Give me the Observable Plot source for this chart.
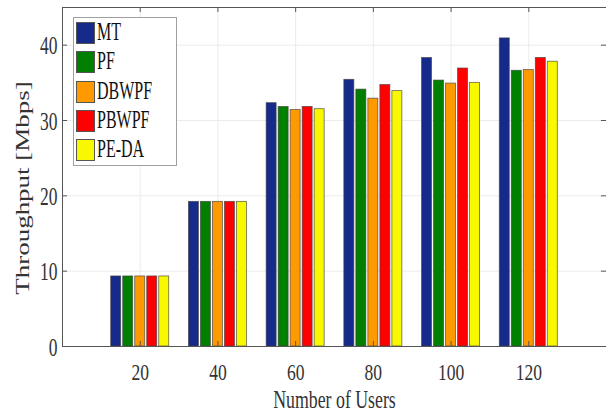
<!DOCTYPE html>
<html>
<head>
<meta charset="utf-8">
<script src="https://cdn.jsdelivr.net/npm/d3@7"></script>
<script src="https://cdn.jsdelivr.net/npm/@observablehq/plot@0.6"></script>
<style>
  html, body { margin: 0; padding: 0; background: #fff; }
  #wrap { position: relative; width: 606px; height: 414px; overflow: hidden; }
  #legend { position: absolute; left: 73px; top: 17px; width: 104px; height: 149px;
            background: #fff; border: 1px solid #a0a0a0; box-sizing: border-box; }
  .row { position: absolute; left: 2px; height: 22px; }
  .sw { position: absolute; left: 0; top: 0; width: 19px; height: 22px; box-sizing: border-box; border: 1px solid #555; }
  .lab { position: absolute; left: 21px; top: -5px; font-family: "Liberation Serif", serif; font-size: 25px;
         line-height: 30px; color: #111; white-space: nowrap; transform: scaleX(0.64); transform-origin: left center; }
</style>
</head>
<body>
<div id="wrap"></div>
<script>
// ---- data ----
const users = [20, 40, 60, 80, 100, 120];
const series = ["MT", "PF", "DBWPF", "PBWPF", "PE-DA"];
const colors = ["#152a8b", "#007f00", "#ff9900", "#ff0000", "#f8f800"];
const MT    = [9.3, 19.2, 32.3, 35.4, 38.3, 40.9];
const PF    = [9.3, 19.2, 31.8, 34.1, 35.3, 36.6];
const DBWPF = [9.3, 19.2, 31.4, 32.9, 34.9, 36.7];
const PBWPF = [9.3, 19.2, 31.8, 34.7, 36.9, 38.3];
const PEDA  = [9.3, 19.2, 31.5, 33.9, 35.0, 37.8];
const yTicks = [0, 10, 20, 30, 40];
const xTicks = users;
const xLabel = "Number of Users";
const yLabel = "Throughput [Mbps]";

const values = [MT, PF, DBWPF, PBWPF, PEDA];
const rows = users.flatMap((u, i) => series.map((s, j) => ({u, s, j, v: values[j][i]})));

const step = 3.09, bw = 2.57; // group layout in x units
const axisColor = "#555";
const gridColor = "#ebebeb";
const textColor = "#333";

const chart = Plot.plot({
  width: 606,
  height: 414,
  marginLeft: 62,
  marginRight: 0,
  marginTop: 7,
  marginBottom: 68,
  style: {fontFamily: "Liberation Serif, serif", background: "#fff"},
  x: {domain: [0, 140], axis: null},
  y: {domain: [0, 45], axis: null},
  color: {domain: series, range: colors},
  marks: [
    Plot.ruleY(yTicks.filter(v => v > 0), {stroke: gridColor, strokeWidth: 1}),
    Plot.ruleX(xTicks, {stroke: gridColor, strokeWidth: 1}),
    Plot.rectY(rows, {
      x1: d => d.u + (d.j - 2) * step - bw / 2,
      x2: d => d.u + (d.j - 2) * step + bw / 2,
      y1: 0, y2: d => d.v,
      fill: d => d.s, stroke: "#444", strokeWidth: 0.8, strokeOpacity: 0.8
    }),
    Plot.frame({stroke: axisColor}),
    // inward ticks on all four sides
    Plot.ruleY(yTicks, {x1: 0, x2: 1.3, stroke: axisColor}),
    Plot.ruleY(yTicks, {x1: 138.7, x2: 140, stroke: axisColor}),
    Plot.ruleX(xTicks, {y1: 0, y2: 0.66, stroke: axisColor}),
    Plot.ruleX(xTicks, {y1: 44.34, y2: 45, stroke: axisColor}),
    // tick labels
    Plot.text(yTicks, {y: d => d, text: d => String(d), frameAnchor: "left", textAnchor: "end", lineAnchor: "middle", dx: -5, dy: 1, fontSize: 25, fill: textColor}),
    Plot.text(xTicks, {x: d => d, text: d => String(d), frameAnchor: "bottom", textAnchor: "middle", lineAnchor: "middle", dy: 26, fontSize: 24, fill: textColor}),
    // axis labels
    Plot.text([xLabel], {frameAnchor: "bottom", textAnchor: "middle", lineAnchor: "middle", dy: 53, fontSize: 26, fill: textColor}),
    Plot.text([yLabel], {frameAnchor: "left", textAnchor: "middle", lineAnchor: "middle", rotate: -90, dx: -39, dy: 11, fontSize: 27, fill: textColor})
  ]
});

const wrap = document.getElementById("wrap");
wrap.appendChild(chart);

// condense text horizontally (the reference glyphs are narrow)
chart.querySelectorAll("text").forEach(t => {
  const bb = t.getBBox();
  const tr = t.getAttribute("transform") || "";
  const rotated = /rotate/.test(tr);
  if (rotated) {
    const s = 0.66, ay = bb.y + bb.height / 2;
    t.setAttribute("transform", `${tr} translate(0,${ay}) scale(1,${s}) translate(0,${-ay})`);
  } else {
    const fs = parseFloat(getComputedStyle(t).fontSize);
    const s = fs >= 26 ? 0.685 : fs >= 25 ? 0.7 : 0.73;
    const anchor = getComputedStyle(t).textAnchor;
    const ax = anchor === "end" ? bb.x + bb.width : anchor === "middle" ? bb.x + bb.width / 2 : bb.x;
    t.setAttribute("transform", `${tr} translate(${ax},0) scale(${s},1) translate(${-ax},0)`);
  }
});

// legend built from the series arrays
const legend = document.createElement("div");
legend.id = "legend";
series.forEach((s, i) => {
  const row = document.createElement("div");
  row.className = "row";
  row.style.top = (4 + i * 29.3) + "px";
  const sw = document.createElement("div");
  sw.className = "sw";
  sw.style.background = colors[i];
  const lab = document.createElement("div");
  lab.className = "lab";
  lab.textContent = s;
  row.appendChild(sw); row.appendChild(lab);
  legend.appendChild(row);
});
wrap.appendChild(legend);
</script>
</body>
</html>
